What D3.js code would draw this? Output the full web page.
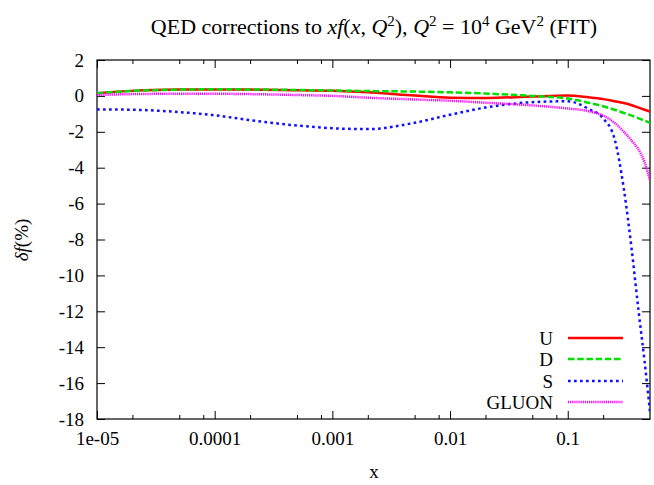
<!DOCTYPE html>
<html>
<head>
<meta charset="utf-8">
<script src="https://cdn.jsdelivr.net/npm/d3@7"></script>
<style>
  body { margin: 0; background: #fff; }
</style>
</head>
<body>
<div id="chart"></div>
<script>
// x values (log spaced) and the four corrections in percent
var xs = [1e-5, 2e-5, 5e-5, 1e-4, 2e-4, 5e-4, 1e-3, 2e-3, 5e-3, 1e-2, 2e-2, 5e-2,
          0.1, 0.15, 0.2, 0.25, 0.3, 0.35, 0.4, 0.45, 0.5];
var uVals = [0.15, 0.28, 0.35, 0.36, 0.35, 0.32, 0.28, 0.2, 0.02, -0.1, -0.12, -0.03,
             0.02, -0.08, -0.18, -0.3, -0.4, -0.52, -0.65, -0.77, -0.88];
var dVals = [0.15, 0.28, 0.35, 0.37, 0.36, 0.33, 0.3, 0.27, 0.24, 0.2, 0.13, 0.0,
             -0.15, -0.38, -0.58, -0.77, -0.95, -1.1, -1.25, -1.38, -1.5];
var sVals = [-0.75, -0.77, -0.9, -1.08, -1.35, -1.65, -1.8, -1.85, -1.5, -1.05, -0.65, -0.35,
             -0.3, -0.72, -1.25, -2.4, -5.2, -8.6, -12.0, -14.8, -17.6];
var gVals = [0.05, 0.1, 0.12, 0.12, 0.1, 0.05, 0.0, -0.1, -0.2, -0.27, -0.38, -0.53,
             -0.7, -0.85, -1.1, -1.5, -2.0, -2.5, -3.0, -3.7, -4.7];

var seriesNames = ["U", "D", "S", "GLUON"];
var seriesData = [uVals, dVals, sVals, gVals];
var seriesColors = ["#ff0000", "#00e000", "#1010ff", "#ff00ff"];
var seriesDash = [null, "6.5,2.7", "2.7,3.3", "1.2,0.9"];

var yTicks = [2, 0, -2, -4, -6, -8, -10, -12, -14, -16, -18];
var xTicks = [1e-5, 1e-4, 1e-3, 1e-2, 1e-1];
var xTickLabels = ["1e-05", "0.0001", "0.001", "0.01", "0.1"];
var xMinor = [2e-5, 5e-5, 8e-5, 2e-4, 5e-4, 8e-4, 2e-3, 5e-3, 8e-3, 2e-2, 5e-2, 8e-2, 0.2];

var FONT = "'Liberation Serif', 'DejaVu Serif', serif";

function init() {
    var W = 654, H = 485;
    var pLeft = 97, pRight = 650, pTop = 60, pBottom = 419;

    var svg = d3.select("#chart").append("svg")
        .attr("width", W).attr("height", H)
        .attr("font-family", FONT);

    var x = d3.scaleLog().domain([1e-5, 0.5]).range([pLeft, pRight]);
    var y = d3.scaleLinear().domain([-18, 2]).range([pBottom, pTop]);

    // axes, ticks on all four sides pointing inward
    function styleAxis(g) {
        g.attr("font-family", FONT).attr("font-size", 19);
        g.select(".domain").remove();
        g.selectAll("line").attr("stroke", "#000").attr("stroke-width", 1);
        g.selectAll("text").attr("fill", "#000");
    }

    svg.append("g")
        .attr("transform", "translate(0," + pBottom + ")")
        .call(d3.axisBottom(x).tickValues(xTicks).tickSizeInner(-8).tickSizeOuter(0).tickPadding(13)
            .tickFormat(function(d, i) { return xTickLabels[i]; }))
        .call(styleAxis);

    svg.append("g")
        .attr("transform", "translate(0," + pBottom + ")")
        .call(d3.axisBottom(x).tickValues(xMinor).tickSizeInner(-4).tickSizeOuter(0).tickFormat(""))
        .call(styleAxis);

    svg.append("g")
        .attr("transform", "translate(0," + pTop + ")")
        .call(d3.axisTop(x).tickValues(xTicks).tickSizeInner(-8).tickSizeOuter(0).tickFormat(""))
        .call(styleAxis);

    svg.append("g")
        .attr("transform", "translate(0," + pTop + ")")
        .call(d3.axisTop(x).tickValues(xMinor).tickSizeInner(-4).tickSizeOuter(0).tickFormat(""))
        .call(styleAxis);

    svg.append("g")
        .attr("transform", "translate(" + pLeft + ",0)")
        .call(d3.axisLeft(y).tickValues(yTicks).tickSizeInner(-8).tickSizeOuter(0).tickPadding(13)
            .tickFormat(function(d) { return String(d); }))
        .call(styleAxis);

    svg.append("g")
        .attr("transform", "translate(" + pRight + ",0)")
        .call(d3.axisRight(y).tickValues(yTicks).tickSizeInner(-8).tickSizeOuter(0).tickFormat(""))
        .call(styleAxis);

    // frame
    svg.append("rect")
        .attr("x", pLeft).attr("y", pTop)
        .attr("width", pRight - pLeft).attr("height", pBottom - pTop)
        .attr("fill", "none").attr("stroke", "#000").attr("stroke-width", 1.2);

    // curves
    svg.append("clipPath").attr("id", "clip")
      .append("rect").attr("x", pLeft).attr("y", pTop)
        .attr("width", pRight - pLeft).attr("height", pBottom - pTop);

    var line = d3.line()
        .x(function(d) { return x(d[0]); })
        .y(function(d) { return y(d[1]); })
        .curve(d3.curveMonotoneX);

    seriesData.forEach(function(vals, i) {
        var pts = xs.map(function(xv, j) { return [xv, vals[j]]; });
        svg.append("path")
            .attr("clip-path", "url(#clip)")
            .attr("d", line(pts))
            .attr("fill", "none")
            .attr("stroke", seriesColors[i])
            .attr("stroke-width", 2.5)
            .attr("stroke-dasharray", seriesDash[i]);
    });

    // legend
    var legendY = [338, 359, 381, 402];
    seriesNames.forEach(function(name, i) {
        svg.append("text")
            .attr("x", 553).attr("y", legendY[i])
            .attr("dy", "0.35em")
            .attr("text-anchor", "end")
            .attr("font-size", 19)
            .text(name);
        svg.append("line")
            .attr("x1", 568).attr("x2", 623)
            .attr("y1", legendY[i]).attr("y2", legendY[i])
            .attr("stroke", seriesColors[i])
            .attr("stroke-width", 2.5)
            .attr("stroke-dasharray", seriesDash[i]);
    });

    // title
    var title = svg.append("text")
        .attr("x", 374).attr("y", 34)
        .attr("text-anchor", "middle")
        .attr("font-size", 22);
    title.append("tspan").text("QED corrections to ");
    title.append("tspan").attr("font-style", "italic").text("xf");
    title.append("tspan").text("(");
    title.append("tspan").attr("font-style", "italic").text("x");
    title.append("tspan").text(", ");
    title.append("tspan").attr("font-style", "italic").text("Q");
    title.append("tspan").attr("font-size", 15).attr("dy", -8).text("2");
    title.append("tspan").attr("dy", 8).text("), ");
    title.append("tspan").attr("font-style", "italic").text("Q");
    title.append("tspan").attr("font-size", 15).attr("dy", -8).text("2");
    title.append("tspan").attr("dy", 8).text(" = 10");
    title.append("tspan").attr("font-size", 15).attr("dy", -8).text("4");
    title.append("tspan").attr("dy", 8).text(" GeV");
    title.append("tspan").attr("font-size", 15).attr("dy", -8).text("2");
    title.append("tspan").attr("dy", 8).text(" (FIT)");

    // axis labels
    svg.append("text")
        .attr("x", 374).attr("y", 478)
        .attr("text-anchor", "middle")
        .attr("font-size", 19)
        .text("x");

    var yl = svg.append("text")
        .attr("transform", "translate(28,240) rotate(-90)")
        .attr("text-anchor", "middle")
        .attr("font-size", 19);
    yl.append("tspan").attr("font-style", "italic").text("δf");
    yl.append("tspan").text("(%)");
}

window.onload = init;
</script>
</body>
</html>
